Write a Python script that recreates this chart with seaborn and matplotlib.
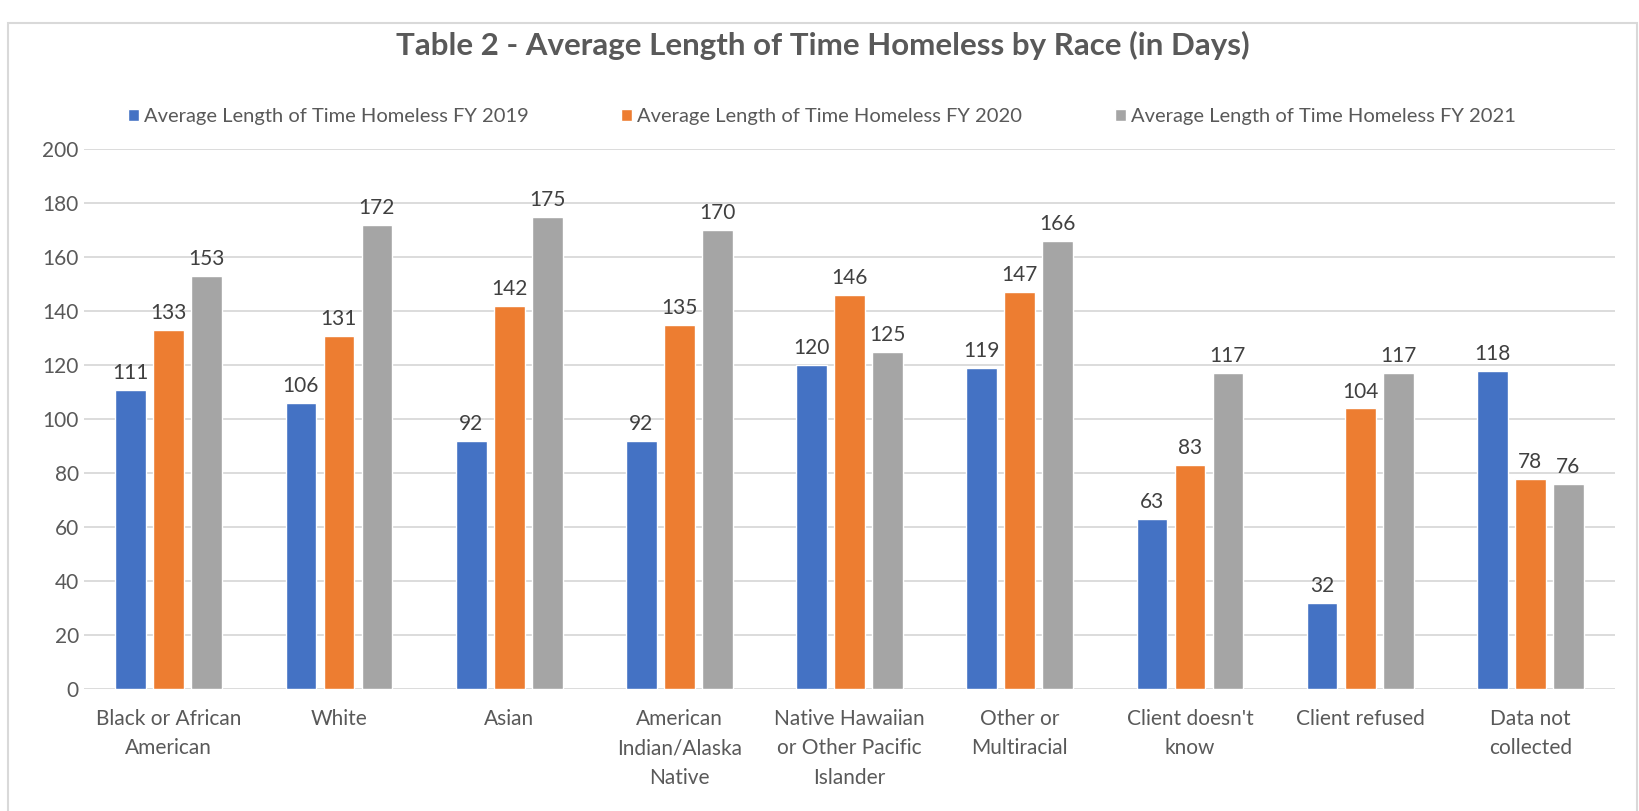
import pandas as pd
import seaborn as sns
import matplotlib
matplotlib.use("Agg")
import matplotlib.pyplot as plt
from matplotlib.patches import Rectangle

# Data
races = ["Black or African\nAmerican", "White", "Asian",
         "American\nIndian/Alaska\nNative", "Native Hawaiian\nor Other Pacific\nIslander",
         "Other or\nMultiracial", "Client doesn't\nknow", "Client refused", "Data not\ncollected"]
fy2019 = [111, 106, 92, 92, 120, 119, 63, 32, 118]
fy2020 = [133, 131, 142, 135, 146, 147, 83, 104, 78]
fy2021 = [153, 172, 175, 170, 125, 166, 117, 117, 76]
series = ["Average Length of Time Homeless FY 2019",
          "Average Length of Time Homeless FY 2020",
          "Average Length of Time Homeless FY 2021"]
colors = ["#4472C4", "#ED7D31", "#A5A5A5"]

rows = []
for s, vals in zip(series, [fy2019, fy2020, fy2021]):
    for r, v in zip(races, vals):
        rows.append({"Race": r, "Series": s, "Days": v})
df = pd.DataFrame(rows)

sns.set_theme(style="white")
plt.rcParams['font.family'] = ['Lato', 'DejaVu Sans']

fig = plt.figure(figsize=(16.4, 8.11), dpi=100)
ax = fig.add_axes([0.051, 0.150, 0.934, 0.666])

sns.barplot(data=df, x="Race", y="Days", hue="Series", palette=colors,
            width=0.67, gap=0.19, saturation=1, ax=ax)

ax.set_ylim(0, 200)
ax.set_yticks(range(0, 201, 20))
ax.set_xlim(-0.5, len(races) - 0.5)
ax.yaxis.grid(True, color="#D9D9D9", linewidth=1.3)
ax.set_axisbelow(True)
for sp in ax.spines.values():
    sp.set_visible(False)
ax.set_xlabel("")
ax.set_ylabel("")
ax.tick_params(axis="both", length=0, labelsize=15, colors="#595959")
ax.tick_params(axis="x", pad=14)
for lbl in ax.get_xticklabels():
    lbl.set_linespacing(1.6)

for cont in ax.containers:
    ax.bar_label(cont, padding=5, fontsize=15, color="#404040")

sns.move_legend(ax, "center", bbox_to_anchor=(0.482, 1.06), ncol=3, frameon=False,
                title=None, fontsize=14.5, handlelength=0.55, handleheight=0.55,
                handletextpad=0.25, columnspacing=4.6)
for t in ax.get_legend().get_texts():
    t.set_color("#595959")

fig.text(0.502, 0.944, "Table 2 - Average Length of Time Homeless by Race (in Days)",
         ha="center", va="center", fontsize=22.5, fontweight="bold", color="#595959")

fig.patches.append(Rectangle((0.005, -0.01), 0.993, 1.0 - 0.01 - 7 / 811,
                             transform=fig.transFigure, fill=False,
                             edgecolor="#D9D9D9", linewidth=1.5))

fig.savefig("out.png", dpi=100)
